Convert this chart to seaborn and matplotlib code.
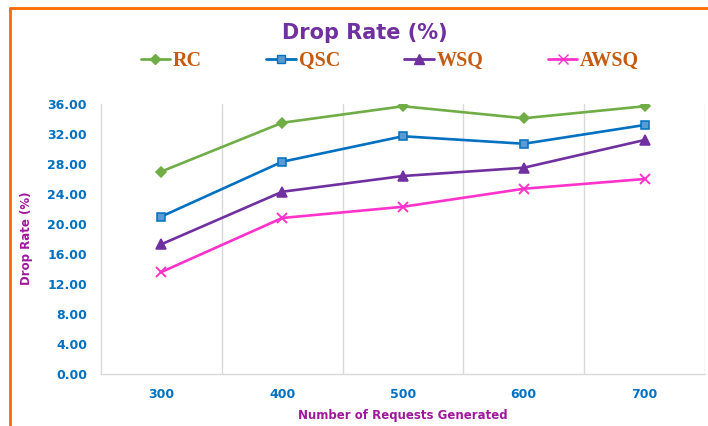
import matplotlib
matplotlib.use("Agg")
import matplotlib.pyplot as plt
from matplotlib.lines import Line2D
import seaborn as sns
import pandas as pd
import numpy as np

# Chart data
requests = ["300", "400", "500", "600", "700"]
rc = [27.0, 33.5, 35.7, 34.1, 35.7]
qsc = [21.0, 28.3, 31.7, 30.7, 33.2]
wsq = [17.3, 24.3, 26.4, 27.5, 31.2]
awsq = [13.6, 20.8, 22.3, 24.7, 26.0]
y_ticks = [0, 4, 8, 12, 16, 20, 24, 28, 32, 36]

series = {"RC": rc, "QSC": qsc, "WSQ": wsq, "AWSQ": awsq}
df = pd.DataFrame(
    [(name, i, v) for name, vals in series.items() for i, v in enumerate(vals)],
    columns=["series", "pos", "value"],
)

styles = {
    "RC":   dict(color="#70AD47", marker="D", mfc="#70AD47", mec="#70AD47", ms=5),
    "QSC":  dict(color="#0070C0", marker="s", mfc="#5B9BD5", mec="#0070C0", ms=6),
    "WSQ":  dict(color="#7030A0", marker="^", mfc="#7030A0", mec="#7030A0", ms=6.5),
    "AWSQ": dict(color="#FF33CC", marker="x", mfc="#FF33CC", mec="#FF33CC", ms=7.5),
}

sns.set_theme(style="white")
plt.rcParams["font.family"] = ["DejaVu Sans"]

fig = plt.figure(figsize=(7.08, 4.26), dpi=100)
ax = fig.add_axes([101 / 708, 52 / 426, 604 / 708, 270 / 426])

for name in series:
    st = styles[name]
    sub = df[df["series"] == name]
    sns.lineplot(
        data=sub, x="pos", y="value", ax=ax, color=st["color"], linewidth=1.9,
        marker=st["marker"], markersize=st["ms"], markerfacecolor=st["mfc"],
        markeredgecolor=st["mec"], markeredgewidth=1.1 if st["marker"] != "x" else 1.4,
        label=name, legend=False,
    )

ax.set_xlim(-0.5, len(requests) - 0.5)
ax.set_ylim(0, 36)
ax.set_xticks(range(len(requests)))
ax.set_xticklabels(requests)
ax.set_xticks(np.arange(0.5, len(requests) - 0.5 + 0.01, 1), minor=True)
ax.set_yticks(y_ticks)
ax.set_yticklabels([f"{v:.2f}" for v in y_ticks])

ax.grid(False)
ax.grid(True, which="minor", axis="x", color="#D9D9D9", linewidth=1)
ax.tick_params(which="both", length=0)
ax.tick_params(axis="y", pad=10)
ax.tick_params(axis="x", pad=10)
for lab in ax.get_yticklabels():
    lab.set_color("#0070C0"); lab.set_fontweight("bold"); lab.set_fontsize(9)
for lab in ax.get_xticklabels():
    lab.set_color("#0070C0"); lab.set_fontweight("bold"); lab.set_fontsize(9)

for s in ["top", "right"]:
    ax.spines[s].set_visible(False)
for s in ["left", "bottom"]:
    ax.spines[s].set_color("#D9D9D9")
    ax.spines[s].set_linewidth(1)

ax.set_xlabel("Number of Requests Generated", color="#A0179E", fontweight="bold",
              fontsize=8.5, labelpad=6)
ax.set_ylabel("Drop Rate (%)", color="#A0179E", fontweight="bold", fontsize=8.5)
ax.yaxis.set_label_coords((33 - 101) / 604, (426 - 238 - 52) / 270)

fig.text(365 / 708, 1 - 33 / 426, "Drop Rate (%)", ha="center", va="center",
         color="#7030A0", fontweight="bold", fontsize=15)

handles = [
    Line2D([0], [0], color=styles[n]["color"], lw=2, marker=styles[n]["marker"],
           markersize=styles[n]["ms"], markerfacecolor=styles[n]["mfc"],
           markeredgecolor=styles[n]["mec"])
    for n in series
]
leg = fig.legend(handles, list(series.keys()), loc="center",
                 bbox_to_anchor=(390 / 708, 1 - 61 / 426), ncol=4, frameon=False,
                 handlelength=1.45, handletextpad=0.15, columnspacing=3.2,
                 prop={"family": "Liberation Serif", "weight": "bold", "size": 14.5})
for t in leg.get_texts():
    t.set_color("#C55A11")

# Orange frame edges
fig.add_artist(Line2D([10 / 708, 1.0], [1 - 8 / 426, 1 - 8 / 426], color="#FF6A00",
                      lw=2, transform=fig.transFigure))
fig.add_artist(Line2D([10 / 708, 10 / 708], [0, 1 - 8 / 426], color="#FF6A00",
                      lw=2, transform=fig.transFigure))

fig.savefig("out.png", dpi=100)
